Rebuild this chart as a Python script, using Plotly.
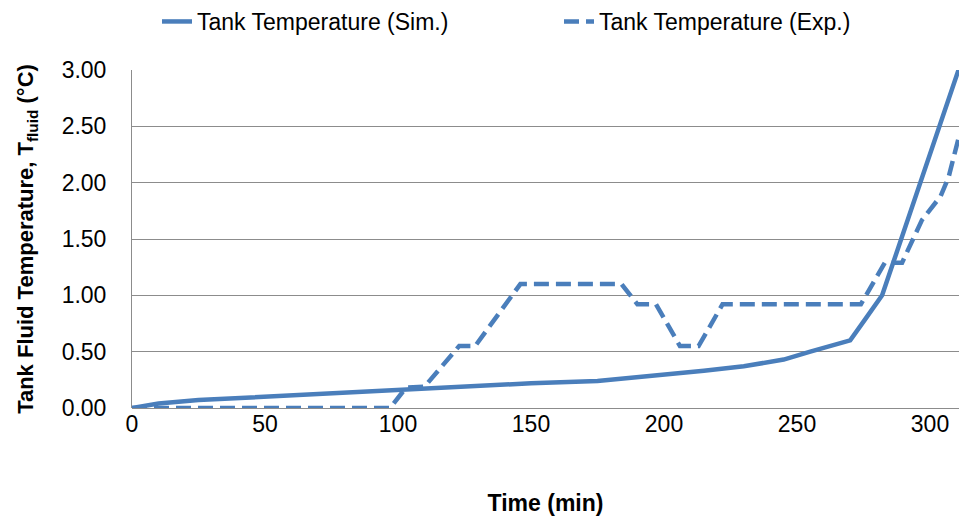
import plotly.graph_objects as go

sim_t = [0, 10, 25, 50, 70, 90, 100, 115, 130, 150, 175, 190, 205, 215, 230, 245, 255, 270, 276, 282, 311]
sim_v = [0.0, 0.04, 0.07, 0.10, 0.13, 0.15, 0.17, 0.18, 0.20, 0.22, 0.24, 0.27, 0.30, 0.33, 0.37, 0.43, 0.50, 0.60, 0.80, 1.00, 3.02]

exp_t = [0, 97, 103, 110, 123, 129, 146, 184, 190, 197, 206, 213, 222, 274, 283, 289.5, 297, 304, 307, 311]
exp_v = [0.0, 0.0, 0.18, 0.19, 0.55, 0.55, 1.10, 1.10, 0.92, 0.92, 0.55, 0.55, 0.92, 0.92, 1.29, 1.29, 1.67, 1.88, 2.05, 2.42]

x_ticks = [0, 50, 100, 150, 200, 250, 300]
y_ticks = [0, 0.5, 1.0, 1.5, 2.0, 2.5, 3.0]

blue = "#4a7ebb"
grid = "#8c8c8c"
font = "Liberation Sans"

fig = go.Figure()
fig.add_trace(go.Scatter(x=sim_t, y=sim_v, mode="lines", name="Tank Temperature (Sim.)",
                         line=dict(color=blue, width=4.5)))
fig.add_trace(go.Scatter(x=exp_t, y=exp_v, mode="lines", name="Tank Temperature (Exp.)",
                         line=dict(color=blue, width=4.5, dash="15px,7px")))

fig.update_layout(
    width=959, height=520,
    margin=dict(l=132, r=0, t=70, b=112, autoexpand=False),
    paper_bgcolor="white", plot_bgcolor="white",
    font=dict(family=font, size=23, color="black"),
    showlegend=True,
    legend=dict(orientation="h", x=157/959, y=1.0, yanchor="top", yref="container",
                xref="container", xanchor="left", font=dict(size=23), entrywidth=357,
                traceorder="normal", bgcolor="rgba(0,0,0,0)"),
    xaxis=dict(range=[0, 310.9], tickvals=x_ticks, ticktext=[str(v) for v in x_ticks],
               showgrid=False, showline=False, zeroline=False,
               ticks="", ticklen=0,
               title=dict(text="<b>Time (min)</b>", font=dict(size=23), standoff=58)),
    yaxis=dict(range=[0, 3.0], tickvals=y_ticks, ticktext=["%.2f" % v for v in y_ticks],
               showgrid=True, gridcolor=grid, gridwidth=1,
               showline=True, linecolor=grid, linewidth=1,
               zeroline=True, zerolinecolor=grid, zerolinewidth=1,
               ticks="outside", ticklen=20, tickcolor="rgba(0,0,0,0)",
               title=dict(text="<b>Tank Fluid Temperature, T<sub>fluid</sub> (°C)</b>", font=dict(size=22), standoff=21)),
)

fig.write_html("out.html", config={"displayModeBar": False},
               post_script="document.body.style.margin='0';document.body.style.overflow='hidden';")
